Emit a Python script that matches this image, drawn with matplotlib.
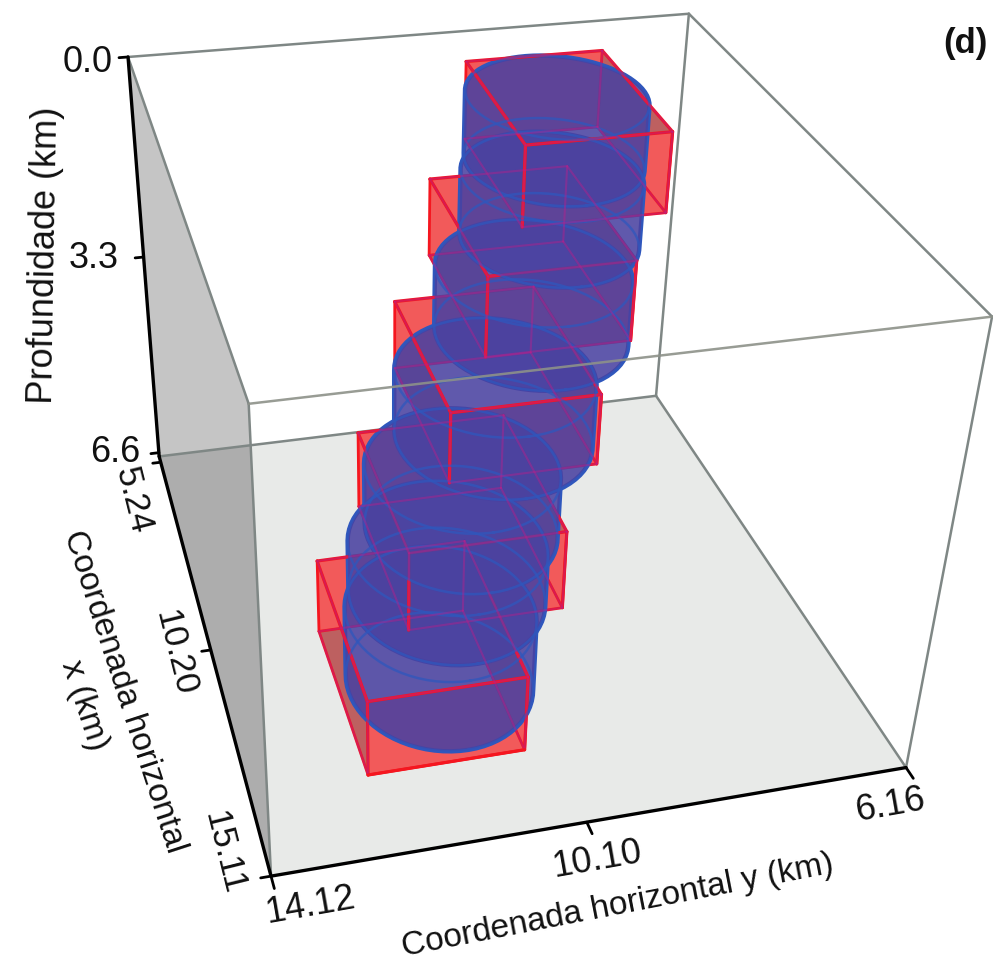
import numpy as np
import matplotlib
matplotlib.use('Agg')
import matplotlib.pyplot as plt
from matplotlib.patches import Polygon

plt.rcParams['font.family'] = ['Liberation Sans', 'DejaVu Sans']

# ---------- axis ranges (km) ----------
x_range = [5.24, 15.11]
y_range = [14.12, 6.16]
z_range = [0.0, 6.6]
z_tick_pos = [0.0, 3.10, 6.53]
z_tick_labels = ['0.0', '3.3', '6.6']
x_tick_pos = [5.42, 10.47, 15.11]
x_tick_labels = ['5.24', '10.20', '15.11']
y_tick_pos = [14.12, 10.31, 6.16]
y_tick_labels = ['14.12', '10.10', '6.16']

# ---------- prisms (km) ----------
prism_x0 = [6.41, 7.31, 8.33, 9.53, 10.56]
prism_x1 = [9.41, 10.39, 11.45, 12.53, 13.71]
prism_y0 = [9.74, 10.44, 11.15, 11.91, 12.68]
prism_y1 = [7.82, 8.52, 9.23, 9.93, 10.70]
prism_ztop = [0.0, 1.32, 2.64, 3.96, 5.28]
prism_zbot = [1.16, 2.50, 3.70, 5.17, 6.48]

# ---------- elliptic cylinders (km) ----------
cyl_cx = [7.90, 8.37, 9.29, 10.32, 11.03, 11.41, 11.85]
cyl_cy = [8.90, 9.06, 9.53, 10.29, 10.88, 11.15, 11.34]
cyl_rx = [1.51, 1.51, 1.62, 1.62, 1.57, 1.61, 1.55]
cyl_ry = [1.17, 1.17, 1.25, 1.26, 1.22, 1.25, 1.20]
cyl_ztop = [0.0, 0.94, 1.89, 2.83, 3.77, 4.71, 5.45]
cyl_zbot = [0.94, 1.89, 2.83, 3.77, 4.71, 5.50, 6.60]

# ---------- camera: calibrated from the box corners as seen on the page ----------
corner_world = [(x_range[i], y_range[j], z_range[k])
                for k in (0, 1) for i, j in ((0, 0), (0, 1), (1, 1), (1, 0))]
corner_page = [(127, 57), (689, 14), (992, 317), (250, 403),
               (160, 457), (656, 395), (906, 768), (270, 876)]
A, b = [], []
for (X, Y, Z), (u, v) in zip(corner_world, corner_page):
    A.append([X, Y, Z, 1, 0, 0, 0, 0, -u * X, -u * Y, -u * Z]); b.append(u)
    A.append([0, 0, 0, 0, X, Y, Z, 1, -v * X, -v * Y, -v * Z]); b.append(v)
CAM = np.append(np.linalg.lstsq(np.array(A, float), np.array(b, float), rcond=None)[0], 1).reshape(3, 4)


def proj(pts):
    pts = np.atleast_2d(np.array(pts, float))
    q = CAM @ np.c_[pts, np.ones(len(pts))].T
    return (q[:2] / q[2]).T


def hull(points):
    pts = sorted(map(tuple, points))

    def half(seq):
        out = []
        for p in seq:
            while len(out) > 1 and ((out[-1][0] - out[-2][0]) * (p[1] - out[-2][1])
                                    - (out[-1][1] - out[-2][1]) * (p[0] - out[-2][0])) <= 0:
                out.pop()
            out.append(p)
        return out[:-1]
    return np.array(half(pts) + half(pts[::-1]))


fig = plt.figure(figsize=(9.93, 9.65), dpi=100)
ax = fig.add_axes([0, 0, 1, 1])
ax.set_xlim(0, 993)
ax.set_ylim(965, 0)
ax.axis('off')

X0, X1 = x_range
Y0, Y1 = y_range
Z0, Z1 = z_range
GREY = '#7f8785'


def face(pts, **kw):
    ax.add_patch(Polygon(proj(pts), closed=True, **kw))


def seg(a, b, **kw):
    p = proj([a, b])
    ax.plot(p[:, 0], p[:, 1], solid_capstyle='round', **kw)


# box surfaces
face([(X0, Y0, Z1), (X0, Y1, Z1), (X1, Y1, Z1), (X1, Y0, Z1)], fc='#e8eae8', ec='none', zorder=1)
face([(X0, Y0, Z0), (X1, Y0, Z0), (X1, Y0, Z1), (X0, Y0, Z1)], fc='#adadad', ec='none', zorder=2)
face([(X0, Y0, Z0), (X0, Y1, Z0), (X0, Y1, Z1), (X0, Y0, Z1)], fc='white', ec='none', alpha=0.3, zorder=3)
for a, b_ in [((X0, Y0, Z0), (X0, Y1, Z0)), ((X0, Y1, Z0), (X1, Y1, Z0)),
              ((X0, Y0, Z0), (X1, Y0, Z0)), ((X0, Y0, Z1), (X0, Y1, Z1)),
              ((X0, Y1, Z1), (X1, Y1, Z1)), ((X0, Y1, Z0), (X0, Y1, Z1)),
              ((X1, Y1, Z0), (X1, Y1, Z1)), ((X1, Y0, Z0), (X1, Y0, Z1))]:
    seg(a, b_, color=GREY, lw=1.8, zorder=4)

SALMON = '#f25a5a'
BROWN = '#bd6060'
RED = '#f5161f'
DIM = '#b81f8c'
n_p = len(prism_x0)
for i in range(n_p - 1, -1, -1):
    xa, xb, ya, yb = prism_x0[i], prism_x1[i], prism_y0[i], prism_y1[i]
    zt, zb = prism_ztop[i], prism_zbot[i]
    base = 10 + (n_p - i) * 0.1
    face([(xa, ya, zt), (xb, ya, zt), (xb, ya, zb), (xa, ya, zb)], fc=BROWN, ec='none', zorder=base)
    face([(xa, yb, zt), (xb, yb, zt), (xb, yb, zb), (xa, yb, zb)], fc=BROWN, ec='none', zorder=base)
    face([(xa, ya, zt), (xa, yb, zt), (xa, yb, zb), (xa, ya, zb)], fc=SALMON, ec='none', zorder=base + .01)
    face([(xb, ya, zt), (xb, yb, zt), (xb, yb, zb), (xb, ya, zb)], fc=SALMON, ec='none', zorder=base + .01)
    for a, b_ in [((xa, ya, zb), (xb, ya, zb)), ((xb, ya, zb), (xb, yb, zb)),
                  ((xb, yb, zb), (xa, yb, zb)), ((xa, yb, zb), (xa, ya, zb)),
                  ((xa, ya, zt), (xa, ya, zb)), ((xa, yb, zt), (xa, yb, zb)),
                  ((xb, yb, zt), (xb, yb, zb))]:
        seg(a, b_, color=RED, lw=2.0, zorder=base + .02)

# cylinders, deepest first, with prism top edges sorted in between by depth
BLUE_FILL = (0.29, 0.26, 0.63)
BLUE_EDGE = '#2f57bd'
theta = np.linspace(0, 2 * np.pi, 73)
for i in range(len(cyl_cx)):
    ex = cyl_cx[i] + cyl_rx[i] * np.cos(theta)
    ey = cyl_cy[i] + cyl_ry[i] * np.sin(theta)
    top = proj(np.c_[ex, ey, np.full_like(ex, cyl_ztop[i])])
    bot = proj(np.c_[ex, ey, np.full_like(ex, cyl_zbot[i])])
    z = 20 + (Z1 - cyl_ztop[i])
    ax.add_patch(Polygon(hull(np.r_[top, bot]), closed=True, fc=BLUE_FILL, ec=BLUE_FILL,
                         lw=0, alpha=0.88, zorder=z))
    ax.add_patch(Polygon(hull(np.r_[top, bot]), closed=True, fc='none', ec=BLUE_EDGE,
                         lw=3.2, zorder=20))
    ax.plot(top[:, 0], top[:, 1], color=BLUE_EDGE, lw=1.8, alpha=0.75, zorder=29)
    ax.plot(bot[:, 0], bot[:, 1], color=BLUE_EDGE, lw=1.8, alpha=0.75, zorder=29)

for i in range(n_p):
    xa, xb, ya, yb = prism_x0[i], prism_x1[i], prism_y0[i], prism_y1[i]
    zt, zb = prism_ztop[i], prism_zbot[i]
    z = 20 + (Z1 - zt) + 0.001
    bright = [((xa, ya, zt), (xb, ya, zt)), ((xb, ya, zt), (xb, yb, zt)),
              ((xb, yb, zt), (xa, yb, zt)), ((xa, yb, zt), (xa, ya, zt)),
              ((xb, ya, zt), (xb, ya, zb)), ((xb, yb, zt), (xb, yb, zb))]
    for a, b_ in bright:
        seg(a, b_, color=RED, lw=2.3, zorder=z)
        seg(a, b_, color=DIM, lw=1.5, alpha=0.45, zorder=29)
    for a, b_ in [((xa, ya, zb), (xb, ya, zb)), ((xb, ya, zb), (xb, yb, zb)),
                  ((xa, ya, zb), (xa, yb, zb)), ((xa, yb, zb), (xb, yb, zb)),
                  ((xa, yb, zt), (xa, yb, zb))]:
        seg(a, b_, color=DIM, lw=1.5, alpha=0.45, zorder=29)
    if i == n_p - 1:
        seg((xb, ya, zb), (xb, yb, zb), color=RED, lw=2.3, zorder=30)

# front box edge seen through the bodies
seg((X1, Y0, Z0), (X1, Y1, Z0), color='#8d9189', lw=1.8, alpha=0.9, zorder=31)

# axes
for a, b_ in [((X0, Y0, Z0), (X0, Y0, Z1)), ((X0, Y0, Z1), (X1, Y0, Z1)), ((X1, Y0, Z1), (X1, Y1, Z1))]:
    seg(a, b_, color='black', lw=2.4, zorder=40)
for t in z_tick_pos:
    seg((X0, Y0, t), (X0, Y0 + 0.12, t), color='black', lw=2.0, zorder=40)
for t in x_tick_pos:
    seg((t, Y0, Z1), (t, Y0 + 0.12, Z1), color='black', lw=2.0, zorder=40)
for t in y_tick_pos:
    seg((X1, t, Z1), (X1 + 0.22, t, Z1), color='black', lw=2.0, zorder=40)

tx = dict(ha='center', va='center', color='#111111', rotation_mode='anchor', zorder=50)
for s, xy in zip(z_tick_labels, [(88, 62), (94, 258), (115, 453)]):
    ax.text(*xy, s, fontsize=26, **tx)
for s, xy in zip(x_tick_labels, [(133, 500), (175, 653), (224, 853)]):
    ax.text(*xy, s, rotation=-76, fontsize=25, **tx)
for s, xy in zip(y_tick_labels, [(310, 906), (597, 860), (890, 806)]):
    ax.text(*xy, s, rotation=10, fontsize=26, **tx)
ax.text(45, 255, 'Profundidade (km)', rotation=89, fontsize=26, **tx)
ax.text(124, 692, 'Coordenada horizontal', rotation=-72, fontsize=24, **tx)
ax.text(84, 705, 'x (km)', rotation=-72, fontsize=24, **tx)
ax.text(618, 906, 'Coordenada horizontal y (km)', rotation=11, fontsize=24, **tx)
ax.text(965, 43, '(d)', ha='center', va='center', fontsize=25, fontweight='bold', color='#111111', zorder=50)

fig.savefig('out.png', dpi=100)
